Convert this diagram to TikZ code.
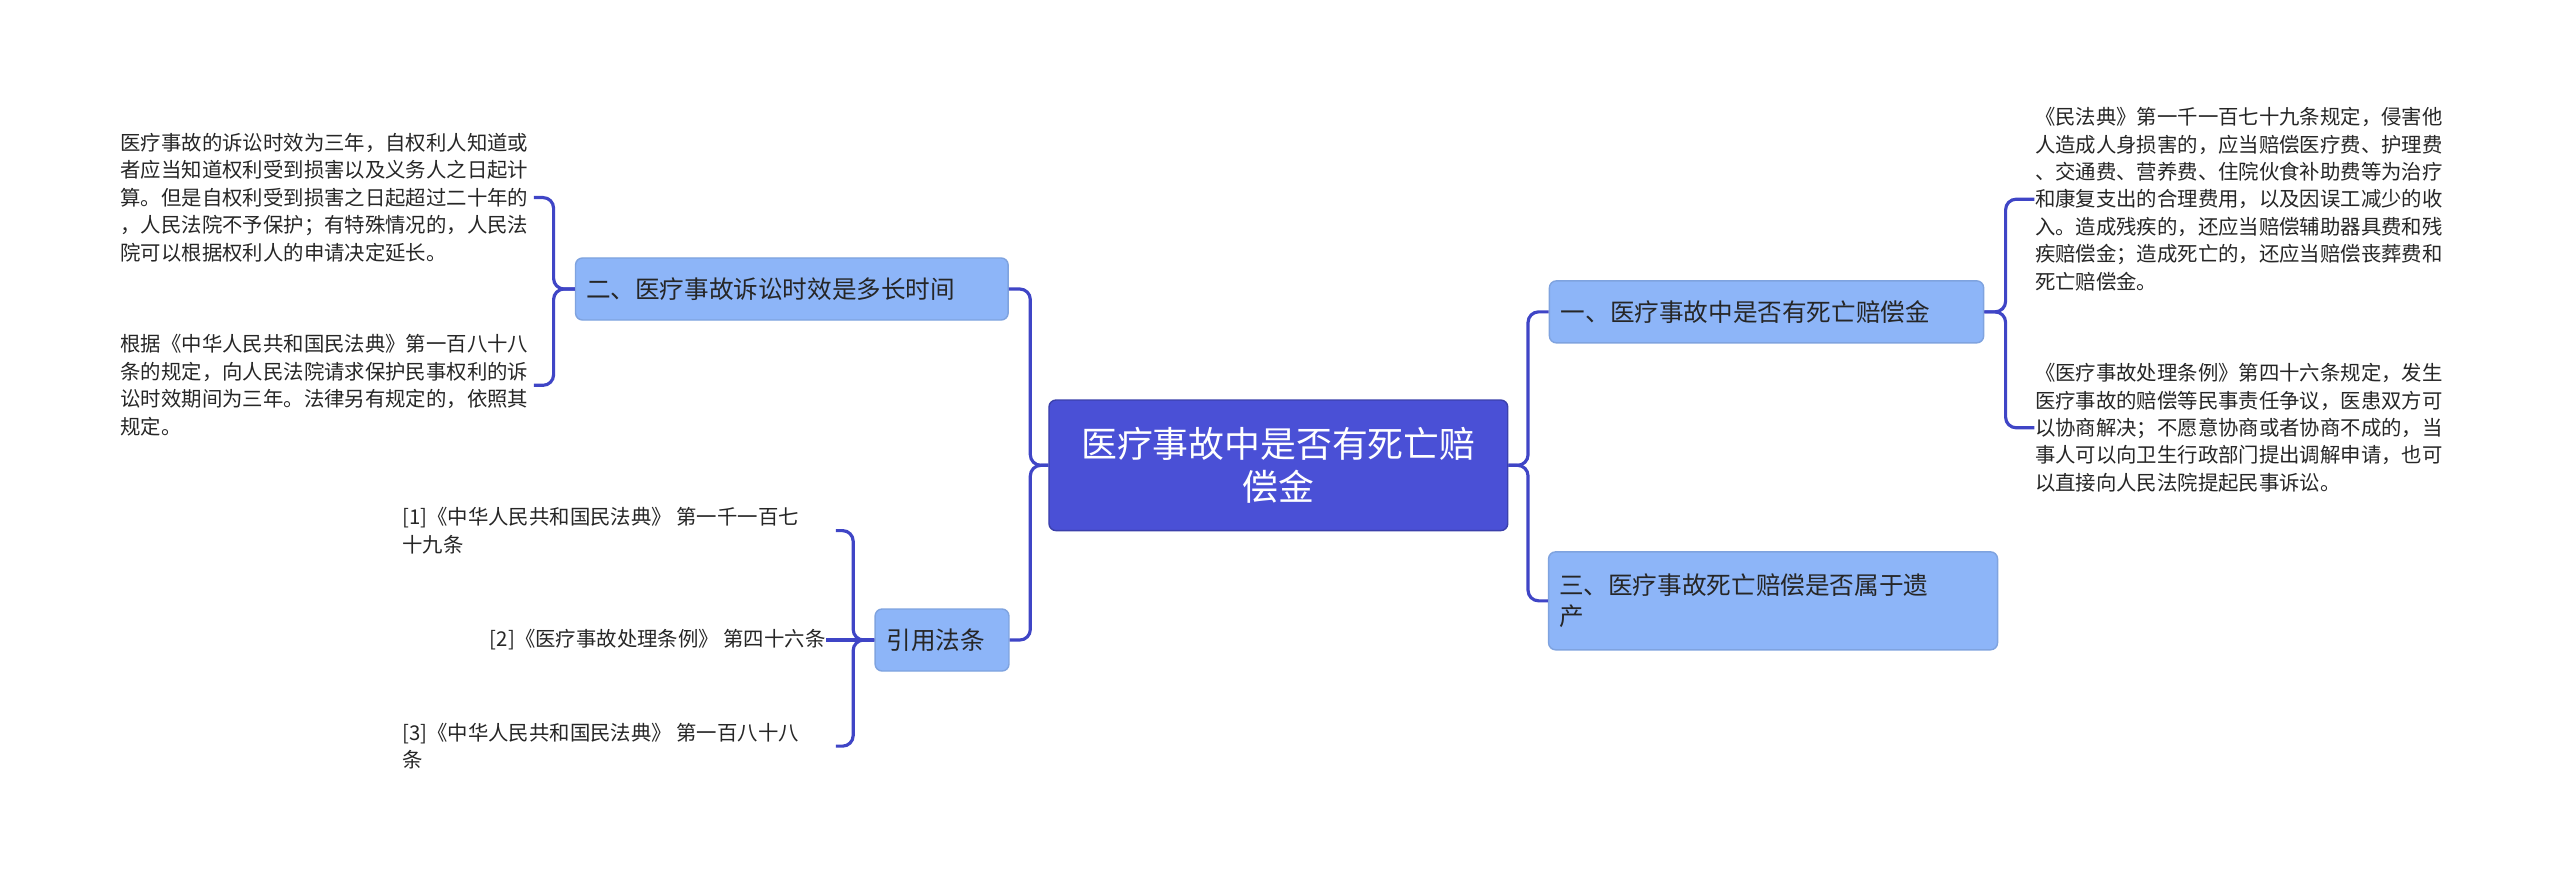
\documentclass[tikz,border=0pt]{standalone}
\usepackage{fontspec}
\setmainfont{Noto Sans CJK SC}
\definecolor{rootblue}{HTML}{4A50D6}
\definecolor{subblue}{HTML}{8DB5F8}
\definecolor{linkblue}{HTML}{3F45C6}
\tikzset{
  rootbox/.style={fill=rootblue,draw=rootblue!80!black,rounded corners=2pt,text=white,font=\fontsize{10.2}{12.5}\selectfont,align=center,minimum width=281\pgfx,minimum height=80\pgfy},
  subbox/.style={fill=subblue,draw=subblue!90!black,rounded corners=2pt,text=black!85,font=\fontsize{7}{9}\selectfont,align=left,inner sep=0pt,minimum height=38\pgfy},
  leaf/.style={text=black!85,font=\fontsize{5.8}{7.8}\selectfont,align=left,inner sep=0pt},
  link/.style={draw=linkblue,line width=0.9pt,rounded corners=3pt}
}
\newlength{\pgfx}\newlength{\pgfy}
\setlength{\pgfx}{0.01633cm}\setlength{\pgfy}{0.01633cm}
\begin{document}
\begin{tikzpicture}[x=0.01633cm,y=-0.01633cm]
\useasboundingbox (0,0) rectangle (1568,537);
% centre and branches
\node[rootbox] (root) at (783,285) {医疗事故中是否有死亡赔\\偿金};
\node[subbox,minimum width=266\pgfx,text width=252\pgfx] (one) at (1082,191) {一、医疗事故中是否有死亡赔偿金};
\node[subbox,minimum width=275\pgfx,minimum height=60\pgfy,text width=262\pgfx] (three) at (1086,368) {三、医疗事故死亡赔偿是否属于遗\\产};
\node[subbox,minimum width=265\pgfx,text width=252\pgfx] (two) at (485,177) {二、医疗事故诉讼时效是多长时间};
\node[subbox,minimum width=82\pgfx,text width=68\pgfx] (cite) at (577,392) {引用法条};
% leaves
\node[leaf,anchor=west] (oneA) at (1246,122) {《民法典》第一千一百七十九条规定，侵害他\\人造成人身损害的，应当赔偿医疗费、护理费\\、交通费、营养费、住院伙食补助费等为治疗\\和康复支出的合理费用，以及因误工减少的收\\入。造成残疾的，还应当赔偿辅助器具费和残\\疾赔偿金；造成死亡的，还应当赔偿丧葬费和\\死亡赔偿金。};
\node[leaf,anchor=west] (oneB) at (1246,262) {《医疗事故处理条例》第四十六条规定，发生\\医疗事故的赔偿等民事责任争议，医患双方可\\以协商解决；不愿意协商或者协商不成的，当\\事人可以向卫生行政部门提出调解申请，也可\\以直接向人民法院提起民事诉讼。};
\node[leaf,anchor=east] (twoA) at (324,121) {医疗事故的诉讼时效为三年，自权利人知道或\\者应当知道权利受到损害以及义务人之日起计\\算。但是自权利受到损害之日起超过二十年的\\，人民法院不予保护；有特殊情况的，人民法\\院可以根据权利人的申请决定延长。};
\node[leaf,anchor=east] (twoB) at (324,236) {根据《中华人民共和国民法典》第一百八十八\\条的规定，向人民法院请求保护民事权利的诉\\讼时效期间为三年。法律另有规定的，依照其\\规定。};
\node[leaf,anchor=west] (ref1) at (246,325) {[1]《中华人民共和国民法典》 第一千一百七\\十九条};
\node[leaf,anchor=east] (ref2) at (506,392) {[2]《医疗事故处理条例》 第四十六条};
\node[leaf,anchor=west] (ref3) at (246,457) {[3]《中华人民共和国民法典》 第一百八十八\\条};
% connectors
\draw[link] (root.east) -- ++(12,0) |- (one.west);
\draw[link] (root.east) -- ++(12,0) |- (three.west);
\draw[link] (root.west) -- ++(-11,0) |- (two.east);
\draw[link] (root.west) -- ++(-11,0) |- (cite.east);
\draw[link] (one.east) -- ++(13,0) |- (oneA.west);
\draw[link] (one.east) -- ++(13,0) |- (oneB.west);
\draw[link] (two.west) -- ++(-13,0) |- ([xshift=3\pgfx]twoA.east);
\draw[link] (two.west) -- ++(-13,0) |- ([xshift=3\pgfx]twoB.east);
\draw[link] (cite.west) -- ++(-13,0) |- (512,325);
\draw[link] (cite.west) -- (ref2.east);
\draw[link] (cite.west) -- ++(-13,0) |- (512,457);
\end{tikzpicture}
\end{document}
